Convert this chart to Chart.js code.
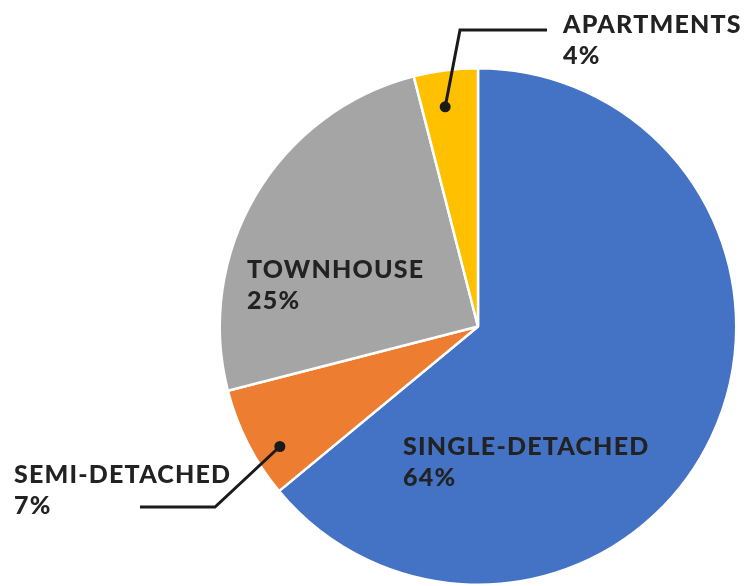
<!DOCTYPE html>
<html>
<head>
<meta charset="utf-8">
<script src="https://cdn.jsdelivr.net/npm/chart.js@4.4.0/dist/chart.umd.min.js"></script>
<style>
html,body{margin:0;padding:0;background:#fff;}
#wrap{width:747px;height:586px;}
</style>
</head>
<body>
<div id="wrap"><canvas id="c" width="747" height="586"></canvas></div>
<script>
const categories = ["SINGLE-DETACHED", "SEMI-DETACHED", "TOWNHOUSE", "APARTMENTS"];
const shares = [64, 7, 25, 4];
const labelsPct = ["64%", "7%", "25%", "4%"];
const colors = ["#4472C4", "#ED7D31", "#A5A5A5", "#FFC000"];

const FONT = "900 25px Lato, 'Open Sans', sans-serif";
const TEXT = "#222222";

const labelPlugin = {
  id: 'labelPlugin',
  afterDatasetsDraw(chart) {
    const ctx = chart.ctx;
    const meta = chart.getDatasetMeta(0);
    const a0 = meta.data[0];
    const cx = a0.x, cy = a0.y, R = a0.outerRadius;
    const P = (deg, f) => {
      const t = deg * Math.PI / 180;
      return [cx + Math.sin(t) * R * f, cy - Math.cos(t) * R * f];
    };
    ctx.save();
    ctx.font = FONT;
    if ('letterSpacing' in ctx) ctx.letterSpacing = '1.2px';
    ctx.fillStyle = TEXT;
    ctx.textBaseline = 'alphabetic';
    ctx.textAlign = 'left';
    const lines = (txt, pct, x, y) => {
      ctx.fillText(txt, x, y);
      ctx.fillText(pct, x, y + 31);
    };
    lines(categories[0], labelsPct[0], 403, 455);
    lines(categories[2], labelsPct[2], 247, 278);
    lines(categories[3], labelsPct[3], 563, 33);
    lines(categories[1], labelsPct[1], 14, 483);

    ctx.strokeStyle = '#1a1a1a';
    ctx.fillStyle = '#1a1a1a';
    ctx.lineWidth = 3;
    ctx.lineJoin = 'miter';
    const pa = P(351.5, 0.86);
    ctx.beginPath();
    ctx.moveTo(pa[0], pa[1]);
    ctx.lineTo(460, 30);
    ctx.lineTo(547, 30);
    ctx.stroke();
    ctx.beginPath(); ctx.arc(pa[0], pa[1], 5.5, 0, Math.PI * 2); ctx.fill();
    const ps = P(238.8, 0.897);
    ctx.beginPath();
    ctx.moveTo(ps[0], ps[1]);
    ctx.lineTo(215, 507);
    ctx.lineTo(140, 507);
    ctx.stroke();
    ctx.beginPath(); ctx.arc(ps[0], ps[1], 5.5, 0, Math.PI * 2); ctx.fill();
    ctx.restore();
  }
};

new Chart(document.getElementById('c'), {
  type: 'pie',
  data: {
    labels: categories,
    datasets: [{
      data: shares,
      backgroundColor: colors,
      borderColor: '#ffffff',
      borderWidth: 2.5
    }]
  },
  options: {
    responsive: false,
    animation: false,
    layout: { padding: { left: 218, right: 9, top: 67, bottom: 0 } },
    plugins: { legend: { display: false }, tooltip: { enabled: false } }
  },
  plugins: [labelPlugin]
});
</script>
</body>
</html>
